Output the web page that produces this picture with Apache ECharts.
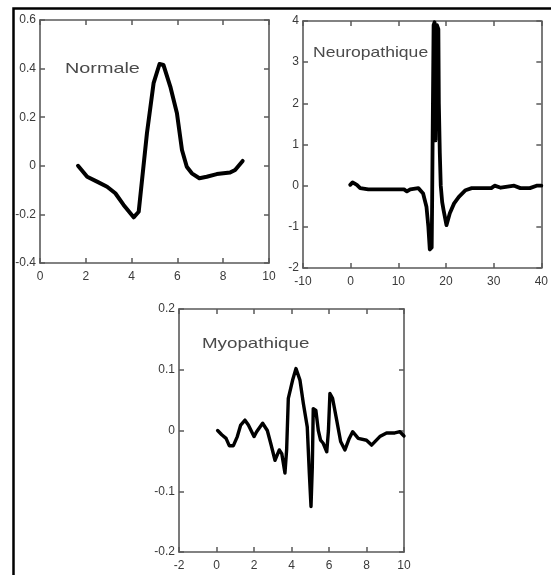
<!DOCTYPE html>
<html>
<head>
<meta charset="utf-8">
<script src="https://cdn.jsdelivr.net/npm/echarts@6/dist/echarts.min.js"></script>
<style>
html,body{margin:0;padding:0;background:#fff;}
#c{width:551px;height:575px;}
</style>
</head>
<body>
<div id="c"></div>
<script>
// ---- Panel titles ----
const titles = ['Normale', 'Neuropathique', 'Myopathique'];

// ---- Tick labels ----
const normXTicks = [0, 2, 4, 6, 8, 10];
const normYTicks = [-0.4, -0.2, 0, 0.2, 0.4, 0.6];
const neuroXTicks = [-10, 0, 10, 20, 30, 40];
const neuroYTicks = [-2, -1, 0, 1, 2, 3, 4];
const myoXTicks = [-2, 0, 2, 4, 6, 8, 10];
const myoYTicks = [-0.2, -0.1, 0, 0.1, 0.2];

// ---- Normale signal ----
const normX = [1.66, 2.06, 2.49, 2.93, 3.29, 3.65, 4.09, 4.31, 4.67, 4.96, 5.22, 5.39, 5.69, 5.98, 6.20, 6.41, 6.63, 6.96, 7.28, 7.72, 8.30, 8.52, 8.85];
const normY = [0.0, -0.045, -0.065, -0.086, -0.113, -0.161, -0.212, -0.189, 0.134, 0.34, 0.419, 0.415, 0.326, 0.216, 0.065, -0.004, -0.031, -0.051, -0.045, -0.034, -0.028, -0.017, 0.02];

// ---- Neuropathique signal ----
const neuroX = [-0.1, 0.4, 0.8, 1.3, 2.0, 3.7, 7.0, 11.2, 11.8, 12.5, 14.2, 15.2, 15.9, 16.3, 16.6, 17.0, 17.1, 17.2, 17.4, 17.6, 17.7, 17.8, 17.9, 18.1, 18.4, 18.5, 18.7, 18.9, 19.2, 19.5, 20.1, 20.8, 21.7, 22.7, 24.1, 25.4, 29.5, 30.2, 31.5, 34.3, 35.6, 37.6, 39.0, 40.0];
const neuroY = [0.02, 0.08, 0.12, 0.02, -0.06, -0.09, -0.09, -0.09, -0.14, -0.09, -0.06, -0.19, -0.51, -1.0, -1.55, -1.5, -0.3, 1.2, 3.9, 3.97, 2.0, 1.1, 3.0, 3.9, 3.8, 2.0, 0.8, 0.0, -0.4, -0.6, -0.96, -0.67, -0.43, -0.27, -0.11, -0.06, -0.06, 0.0, -0.05, 0.0, -0.06, -0.06, 0.0, 0.0];

// ---- Myopathique signal ----
const myoX = [0.06, 0.28, 0.51, 0.68, 0.90, 1.11, 1.29, 1.52, 1.70, 2.0, 2.14, 2.46, 2.71, 2.89, 3.12, 3.35, 3.48, 3.65, 3.74, 3.83, 4.06, 4.24, 4.45, 4.63, 4.84, 4.95, 5.04, 5.11, 5.16, 5.30, 5.43, 5.55, 5.69, 5.88, 5.97, 6.05, 6.19, 6.41, 6.62, 6.85, 7.08, 7.26, 7.56, 8.0, 8.27, 8.71, 9.07, 9.51, 9.78, 10.0];
const myoY = [0.0, -0.007, -0.013, -0.025, -0.025, -0.01, 0.009, 0.017, 0.009, -0.01, -0.002, 0.012, 0.0, -0.021, -0.049, -0.032, -0.038, -0.07, -0.032, 0.053, 0.083, 0.102, 0.083, 0.045, 0.006, -0.07, -0.125, -0.06, 0.036, 0.033, 0.0, -0.016, -0.021, -0.035, 0.0, 0.061, 0.053, 0.017, -0.018, -0.032, -0.013, -0.002, -0.013, -0.016, -0.024, -0.01, -0.004, -0.004, -0.002, -0.009];

const zip = (a, b) => a.map((v, i) => [v, b[i]]);

const AX = '#5a5a5a';
const LBL = {color: '#3a3a3a', fontSize: 12, fontFamily: '"Liberation Sans Narrow", "Liberation Sans", sans-serif'};
const grids = [
  {left: 40, top: 20, width: 229, height: 243},
  {left: 303, top: 21, width: 245, height: 247},
  {left: 179, top: 309, width: 225, height: 243}
];
const panels = [
  {xt: normXTicks, yt: normYTicks, data: zip(normX, normY), lw: 4, dec: 1},
  {xt: neuroXTicks, yt: neuroYTicks, data: zip(neuroX, neuroY), lw: 3.8, dec: 0},
  {xt: myoXTicks, yt: myoYTicks, data: zip(myoX, myoY), lw: 3.4, dec: 1}
];

function fmt(dec) {
  return function (v) {
    const r = Math.round(v * 1000) / 1000;
    if (r === 0) return '0';
    return dec ? r.toFixed(dec) : String(r);
  };
}

const xAxes = [], yAxes = [], series = [];
panels.forEach((p, i) => {
  const xmin = p.xt[0], xmax = p.xt[p.xt.length - 1], xint = p.xt[1] - p.xt[0];
  const ymin = p.yt[0], ymax = p.yt[p.yt.length - 1], yint = Math.round((p.yt[1] - p.yt[0]) * 1000) / 1000;
  ['bottom', 'top'].forEach((pos, k) => {
    xAxes.push({
      type: 'value', gridIndex: i, position: pos, min: xmin, max: xmax, interval: xint,
      axisLine: {show: true, onZero: false, lineStyle: {color: AX, width: 1.6}},
      axisTick: {show: true, inside: true, length: 5, lineStyle: {color: AX, width: 1.5}},
      axisLabel: Object.assign({show: k === 0, margin: 8, formatter: fmt(0)}, LBL),
      splitLine: {show: false}
    });
  });
  ['left', 'right'].forEach((pos, k) => {
    yAxes.push({
      type: 'value', gridIndex: i, position: pos, min: ymin, max: ymax, interval: yint,
      axisLine: {show: true, onZero: false, lineStyle: {color: AX, width: 1.6}},
      axisTick: {show: true, inside: true, length: 5, lineStyle: {color: AX, width: 1.5}},
      axisLabel: Object.assign({show: k === 0, margin: 4, formatter: fmt(p.dec)}, LBL),
      splitLine: {show: false}
    });
  });
  series.push({
    type: 'line', xAxisIndex: 2 * i, yAxisIndex: 2 * i, data: p.data,
    showSymbol: false, symbol: 'none', animation: false,
    lineStyle: {color: '#000', width: p.lw, join: 'round', cap: 'round'}
  });
});

const titlePos = [
  {x: 65, y: 69, sx: 1.32},
  {x: 313, y: 52.5, sx: 1.17},
  {x: 202, y: 344, sx: 1.25}
];

const graphic = [
  {type: 'rect', silent: true, shape: {x: 13.5, y: 8.5, width: 700, height: 700},
   style: {fill: 'none', stroke: '#000', lineWidth: 2.5}}
];
titles.forEach((t, i) => {
  graphic.push({
    type: 'text', x: titlePos[i].x, y: titlePos[i].y, scaleX: titlePos[i].sx, scaleY: 1,
    style: {text: t, fill: '#4a4a4a', font: '15px "Liberation Sans"', textAlign: 'left', textVerticalAlign: 'middle'}
  });
});

const chart = echarts.init(document.getElementById('c'), null, {renderer: 'canvas'});
chart.setOption({
  animation: false,
  backgroundColor: '#fff',
  grid: grids,
  xAxis: xAxes,
  yAxis: yAxes,
  series: series,
  graphic: graphic
});
</script>
</body>
</html>
